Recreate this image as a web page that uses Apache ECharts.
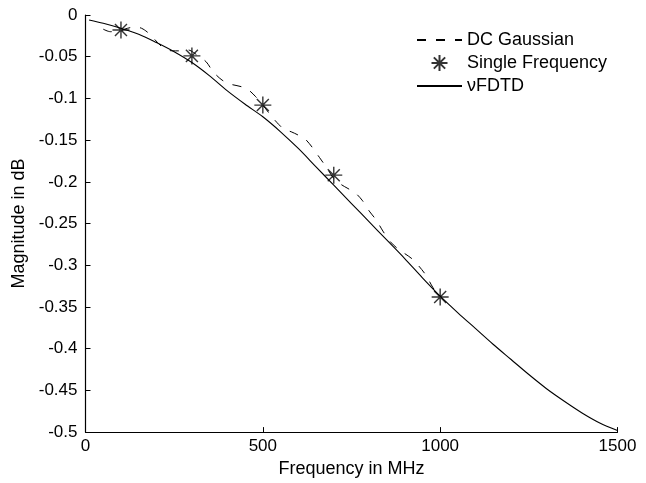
<!DOCTYPE html>
<html>
<head>
<meta charset="utf-8">
<script src="https://cdn.jsdelivr.net/npm/echarts@6/dist/echarts.min.js"></script>
<style>
html,body{margin:0;padding:0;background:#fff;}
#chart{width:646px;height:483px;}
</style>
</head>
<body>
<div id="chart"></div>
<script>
// vFDTD (solid)
const freqSolid = [10,50,100,150,200,250,300,350,400,450,500,550,600,650,700,750,800,850,900,950,1000,1050,1100,1150,1200,1250,1300,1350,1400,1450,1500];
const magSolid = [-0.006,-0.010,-0.016,-0.023,-0.033,-0.044,-0.057,-0.073,-0.091,-0.107,-0.122,-0.140,-0.160,-0.182,-0.204,-0.226,-0.248,-0.270,-0.292,-0.315,-0.337,-0.357,-0.376,-0.395,-0.413,-0.431,-0.448,-0.463,-0.477,-0.489,-0.498];
// DC Gaussian (dashed)
const freqDashed = [50,70,90,110,130,150,170,190,210,225,245,270,290,305,320,340,360,385,410,440,460,480,500,520,540,560,580,600,620,640,660,680,700,720,740,760,780,800,820,840,860,880,900,920,940,960,980,1000];
const magDashed = [-0.017,-0.020,-0.020,-0.017,-0.015,-0.015,-0.019,-0.027,-0.036,-0.041,-0.043,-0.043,-0.042,-0.045,-0.050,-0.056,-0.068,-0.078,-0.083,-0.086,-0.090,-0.098,-0.108,-0.119,-0.129,-0.137,-0.140,-0.144,-0.149,-0.159,-0.171,-0.183,-0.196,-0.203,-0.208,-0.213,-0.222,-0.235,-0.246,-0.260,-0.272,-0.280,-0.286,-0.292,-0.301,-0.312,-0.327,-0.338];
// Single Frequency (stars)
const freqStars = [100,300,500,700,1000];
const magStars = [-0.018,-0.049,-0.108,-0.192,-0.338];
// axis ticks
const xTicks = [0,500,1000,1500];
const yTicks = [0,-0.05,-0.1,-0.15,-0.2,-0.25,-0.3,-0.35,-0.4,-0.45,-0.5];

const zip = (a,b) => a.map((v,i)=>[v,b[i]]);
const starPath = 'path://M0,-10L0,10M-10,0L10,0M-7.07,-7.07L7.07,7.07M-7.07,7.07L7.07,-7.07';
const font = "'Liberation Sans', Arial, Helvetica, sans-serif";
const hideSym = {color:'rgba(0,0,0,0)', borderWidth:0, opacity:0};

const chart = echarts.init(document.getElementById('chart'), null, {renderer:'canvas'});
chart.setOption({
  animation:false,
  backgroundColor:'#fff',
  grid:{left:85.5, top:15, right:28.5, bottom:47.5},
  legend:{
    orient:'vertical',
    left:411, top:26,
    itemWidth:45, itemHeight:16, itemGap:5,
    textStyle:{fontFamily:font, fontSize:18, color:'#000'},
    data:[
      {name:'DC Gaussian', itemStyle:hideSym},
      {name:'Single Frequency'},
      {name:'\u03bdFDTD', itemStyle:hideSym}
    ]
  },
  xAxis:{
    type:'value', min:xTicks[0], max:xTicks[xTicks.length-1], interval:500,
    name:'Frequency in MHz', nameLocation:'middle', nameGap:23,
    nameTextStyle:{fontFamily:font, fontSize:18, color:'#000'},
    axisLine:{onZero:false, lineStyle:{color:'#000', width:1.2}},
    axisTick:{inside:true, length:5, lineStyle:{color:'#000'}},
    axisLabel:{fontFamily:font, fontSize:17, color:'#000', margin:6, formatter:v=>String(v)},
    splitLine:{show:false}
  },
  yAxis:{
    type:'value', min:yTicks[yTicks.length-1], max:yTicks[0], interval:0.05,
    name:'Magnitude in dB', nameLocation:'middle', nameGap:50,
    nameTextStyle:{fontFamily:font, fontSize:18, color:'#000'},
    axisLine:{show:true, onZero:false, lineStyle:{color:'#000', width:1.2}},
    axisTick:{show:true, inside:true, length:5, lineStyle:{color:'#000'}},
    axisLabel:{fontFamily:font, fontSize:17, color:'#000', margin:8,
      formatter:v=>{const r=Math.round(v*100)/100; return r===0?'0':String(r);}},
    splitLine:{show:false}
  },
  series:[
    {name:'DC Gaussian', type:'line', data:zip(freqDashed,magDashed), symbol:'none', smooth:0.3,
     lineStyle:{color:'#000', width:1, type:[9,10]}, itemStyle:{color:'#000'}},
    {name:'Single Frequency', type:'scatter', data:zip(freqStars,magStars), symbol:starPath, symbolSize:17,
     itemStyle:{color:'rgba(0,0,0,0)', borderColor:'#000', borderWidth:1.4}, z:5},
    {name:'\u03bdFDTD', type:'line', data:zip(freqSolid,magSolid), symbol:'none', smooth:0.3,
     lineStyle:{color:'#000', width:1.1}, itemStyle:{color:'#000'}}
  ]
});
</script>
</body>
</html>
